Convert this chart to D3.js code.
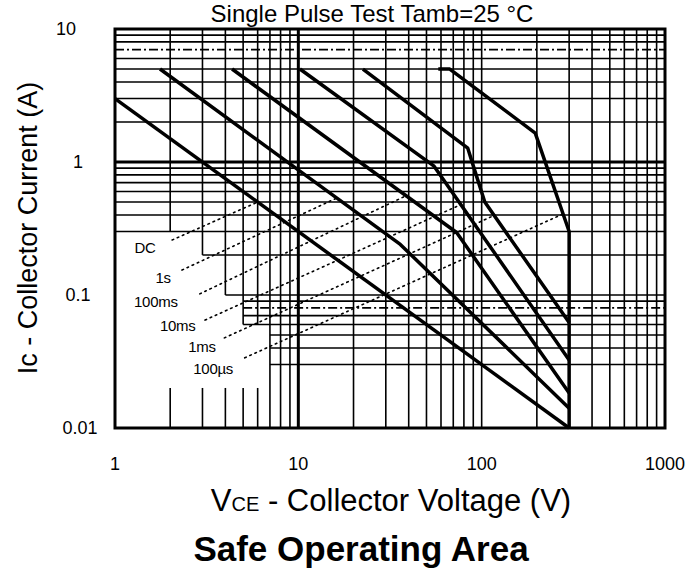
<!DOCTYPE html>
<html><head><meta charset="utf-8">
<script src="https://cdn.jsdelivr.net/npm/d3@7"></script>
<style>body{margin:0;background:#fff}svg{display:block}</style>
</head><body>
<svg id="c" width="693" height="569"></svg>
<script>
// ---- data ----
const xTicks = [1, 10, 100, 1000];
const xTickLabels = ["1", "10", "100", "1000"];
const yTicks = [0.01, 0.1, 1, 10];
const yTickLabels = ["0.01", "0.1", "1", "10"];
const seriesNames = ["DC", "1s", "100ms", "10ms", "1ms", "100µs"];
const curveDC    = [[1, 3], [300, 0.01]];
const curve1s    = [[1.76, 5], [36, 0.24], [300, 0.0141]];
const curve100ms = [[4.35, 5], [73, 0.295], [300, 0.0183]];
const curve10ms  = [[10.2, 5], [55, 0.93], [300, 0.0325]];
const curve1ms   = [[22.5, 5], [84, 1.27], [92, 0.85], [104, 0.5], [300, 0.062]];
const curve100us = [[58, 5], [67, 5], [196, 1.65], [300, 0.3], [300, 0.01]];
// label anchors (V, I) and leader lines (start V, I -> end V on curve)
const labelAnchor = [[1.46, 0.226], [1.83, 0.134], [1.67, 0.0885], [2.2, 0.0584], [2.98, 0.0406], [3.43, 0.0278]];
const leaderStart = [[2.05, 0.259], [2.32, 0.154], [2.9, 0.102], [3.1, 0.0648], [3.95, 0.0476], [5.1, 0.0337]];
const leaderEndV  = [6.0, 16.2, 38.7, 77, 117, 278];
// partial grid in lower-left (horizontal line start V, vertical line end I)
const gridHStart = [[0.2, 3], [0.1, 4], [0.09, 5], [0.08, 5], [0.07, 5], [0.06, 5], [0.05, 7], [0.04, 7], [0.03, 7]];
const gridHSkip = [0.02];
const gridVEnd = [[2, 0.3], [3, 0.2], [4, 0.1], [5, 0.06], [6, 0.06]];
const gridDashed = [7, 0.08];

// ---- layout ----
const W = 693, H = 569;
const m = {left: 115, right: 28, top: 29, bottom: 141};
const svg = d3.select("#c");
const x = d3.scaleLog().domain([1, 1000]).range([m.left, W - m.right]);
const y = d3.scaleLog().domain([0.01, 10]).range([H - m.bottom, m.top]);
const FONT = "'Liberation Sans', Arial, Helvetica, sans-serif";
const near = (a, b) => Math.abs(Math.log10(a) - Math.log10(b)) < 1e-6;
const yLabelX = {"10": 66, "1": 78, "0.1": 78, "0.01": 80};

const curves = [curveDC, curve1s, curve100ms, curve10ms, curve1ms, curve100us];

// grid
const g = svg.append("g");
y.ticks().forEach(v => {
  if (gridHSkip.some(s => near(s, v))) return;
  const st = gridHStart.find(s => near(s[0], v));
  const x0 = st ? x(st[1]) : x(1);
  const major = near(v, 1);
  g.append("line").attr("x1", x0).attr("x2", x(1000)).attr("y1", y(v)).attr("y2", y(v))
    .attr("stroke", "#000").attr("stroke-width", major ? 3 : 1.6)
    .attr("stroke-dasharray", gridDashed.some(s => near(s, v)) ? "9,3,2,3" : null);
});
x.ticks().forEach(v => {
  const en = gridVEnd.find(s => near(s[0], v));
  const major = near(v, 10);
  g.append("line").attr("x1", x(v)).attr("x2", x(v)).attr("y1", y(10)).attr("y2", en ? y(en[1]) : y(0.01))
    .attr("stroke", "#000").attr("stroke-width", major ? 3 : 1.6);
  if (en) {
    g.append("line").attr("x1", x(v)).attr("x2", x(v)).attr("y1", y(0.02)).attr("y2", y(0.01))
      .attr("stroke", "#000").attr("stroke-width", 1.6);
  }
});
// frame
svg.append("rect").attr("x", x(1)).attr("y", y(10)).attr("width", x(1000) - x(1)).attr("height", y(0.01) - y(10))
  .attr("fill", "none").attr("stroke", "#000").attr("stroke-width", 3);

// leaders
function interp(curve, v) {
  for (let i = 0; i < curve.length - 1; i++) {
    const a = curve[i], b = curve[i + 1];
    if (v >= a[0] && v <= b[0] && b[0] > a[0]) {
      const t = (Math.log10(v) - Math.log10(a[0])) / (Math.log10(b[0]) - Math.log10(a[0]));
      return Math.pow(10, Math.log10(a[1]) + t * (Math.log10(b[1]) - Math.log10(a[1])));
    }
  }
  return curve[curve.length - 1][1];
}
seriesNames.forEach((n, i) => {
  const s = leaderStart[i];
  const ev = leaderEndV[i];
  const ei = interp(curves[i], ev);
  svg.append("line").attr("x1", x(s[0])).attr("y1", y(s[1])).attr("x2", x(ev)).attr("y2", y(ei))
    .attr("stroke", "#000").attr("stroke-width", 1.6).attr("stroke-dasharray", "1.6,4").attr("stroke-linecap", "round");
});

// curves
const line = d3.line().x(d => x(d[0])).y(d => y(d[1]));
curves.forEach(c => {
  svg.append("path").attr("d", line(c)).attr("fill", "none").attr("stroke", "#000")
    .attr("stroke-width", 3.5).attr("stroke-linejoin", "round");
});

// series labels
seriesNames.forEach((n, i) => {
  svg.append("text").attr("x", x(labelAnchor[i][0])).attr("y", y(labelAnchor[i][1]) + 5)
    .attr("text-anchor", "middle").attr("font-family", FONT).attr("font-size", 15)
    .attr("letter-spacing", -0.3).text(n);
});

// axes tick labels
xTicks.forEach((v, i) => {
  svg.append("text").attr("x", x(v)).attr("y", 470).attr("text-anchor", "middle")
    .attr("font-family", FONT).attr("font-size", 18).text(xTickLabels[i]);
});
yTicks.forEach((v, i) => {
  svg.append("text").attr("x", yLabelX[yTickLabels[i]]).attr("y", y(v) + 6).attr("text-anchor", "middle")
    .attr("font-family", FONT).attr("font-size", 18).text(yTickLabels[i]);
});

// titles
svg.append("text").attr("x", 372).attr("y", 22).attr("text-anchor", "middle")
  .attr("font-family", FONT).attr("font-size", 24).text("Single Pulse Test Tamb=25 °C");
const xt = svg.append("text").attr("x", 391).attr("y", 511).attr("text-anchor", "middle")
  .attr("font-family", FONT).attr("font-size", 31);
xt.append("tspan").text("V");
xt.append("tspan").attr("font-size", 20).text("CE");
xt.append("tspan").text(" - Collector Voltage (V)");
svg.append("text").attr("transform", "translate(37,228) rotate(-90)").attr("text-anchor", "middle")
  .attr("font-family", FONT).attr("font-size", 27).text("Ic - Collector Current (A)");
svg.append("text").attr("x", 361).attr("y", 561).attr("text-anchor", "middle")
  .attr("font-family", FONT).attr("font-weight", "bold").attr("font-size", 35).text("Safe Operating Area");
</script>
</body></html>
